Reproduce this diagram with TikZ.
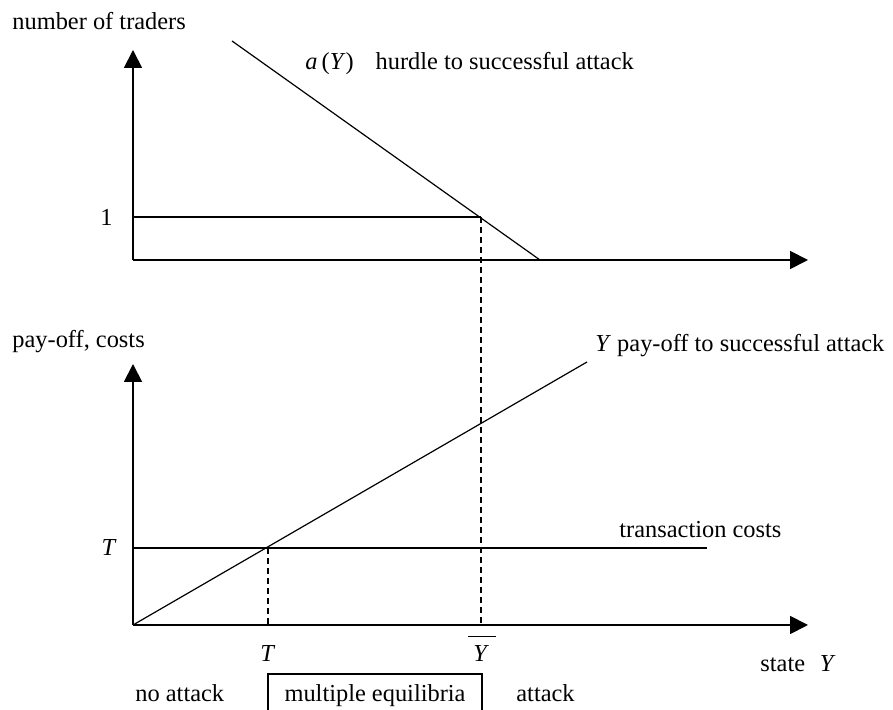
\documentclass[tikz,border=0pt]{standalone}
\usepackage{fontspec}
\setmainfont{Liberation Serif}
\usetikzlibrary{arrows.meta}

\tikzset{%
    axis/.style = {line width = 0.9pt, -{Triangle[length = 9pt, width = 9pt]}},
    curve/.style = {line width = 0.6pt},
    guide/.style = {line width = 0.6pt, dash pattern = on 3pt off 2pt},
    txt/.style = {inner sep = 0pt, font = \fontsize{12.2}{14}\selectfont},
}

\begin{document}
\begin{tikzpicture}[x = 0.5pt, y = 0.5pt]

        \useasboundingbox (0, 0) rectangle (893, 710);

        % Upper panel: hurdle to a successful attack.
        \coordinate (topO) at (133, 450);
        \coordinate (topY) at (133, 660);
        \coordinate (topX) at (808, 450);
        \coordinate (one) at (133, 493);
        \coordinate (ybarTop) at (481, 493);
        \coordinate (hurdleA) at (232, 669);
        \coordinate (hurdleB) at (540, 450);

        \draw[axis] (topO) to (topY);
        \draw[axis] (topO) to (topX);
        \draw[curve] (one) to (ybarTop);
        \draw[curve] (hurdleA) to (hurdleB);

        % Lower panel: pay-off against transaction costs.
        \coordinate (botO) at (133, 85);
        \coordinate (botY) at (133, 346);
        \coordinate (botX) at (808, 85);
        \coordinate (tLeft) at (133, 162);
        \coordinate (tCross) at (268, 162);
        \coordinate (tRight) at (707, 162);
        \coordinate (tFoot) at (268, 85);
        \coordinate (ybarFoot) at (481, 85);
        \coordinate (payEnd) at (587, 348);

        \draw[axis] (botO) to (botY);
        \draw[axis] (botO) to (botX);
        \draw[curve] (tLeft) to (tRight);
        \draw[curve] (botO) to (payEnd);
        \draw[guide] (ybarTop) to (ybarFoot);
        \draw[guide] (tCross) to (tFoot);

        % The box round the middle region is open at the bottom.
        \coordinate (boxL) at (268, 0);
        \coordinate (boxR) at (482, 0);
        \draw[curve] (boxL) |- (482, 36) to (boxR);

        \node[txt, anchor = base west] (traders) at (12, 680) {number of traders};
        \node[txt, anchor = base west] (hurdle) at (305, 640)
            {\textit{a}\,(\textit{Y})\hspace{0.9em}hurdle to successful attack};
        \node[txt, anchor = east] (oneLbl) at (113, 493) {1};

        \node[txt, anchor = base west] (payoff) at (12, 362) {pay-off, costs};
        \node[txt, anchor = base west] (payLbl) at (595, 358)
            {\textit{Y} pay-off to successful attack};
        \node[txt, anchor = east] (tLbl) at (117, 162) {\textit{T}};
        \node[txt, anchor = base west] (costLbl) at (619, 172) {transaction costs};
        \node[txt, anchor = base] (tAxis) at (268, 48) {\textit{T}};
        \node[txt, anchor = base] (ybarLbl) at (482, 48)
            {$\overline{\mkern4mu\mbox{\textit{Y}}\mkern5mu\rule{0pt}{0.95em}}$};
        \node[txt, anchor = base west] (state) at (760, 38) {state\hspace{0.6em}\textit{Y}};

        \node[txt, anchor = base west] (noAttack) at (135, 8) {no attack};
        \node[txt, anchor = base] (multi) at (375, 8) {multiple equilibria};
        \node[txt, anchor = base west] (attack) at (516, 8) {attack};
    \end{tikzpicture}
\end{document}
